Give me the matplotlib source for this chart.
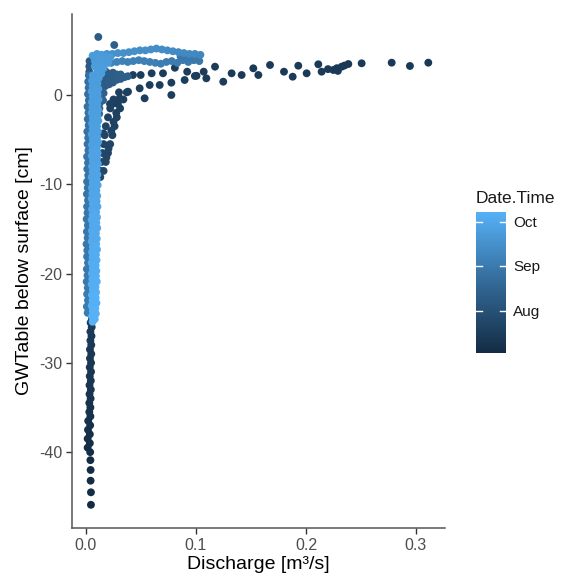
import matplotlib
matplotlib.use("Agg")
from matplotlib import pyplot as plt
from matplotlib.colors import LinearSegmentedColormap, Normalize
import matplotlib.dates as mdates
import pandas as pd

plt.rcParams['font.family'] = ['Liberation Sans', 'DejaVu Sans']

start = pd.Timestamp('2016-07-01')

# -- July: deep groundwater column (discharge [m3/s], GW table [cm], days after 1 July)
q_deep = [0.0045, 0.0045, 0.0042, 0.0042, 0.0040, 0.0038,
          0.0015, 0.0035, 0.0015, 0.0035, 0.0018, 0.0038, 0.0020, 0.0040, 0.0030, 0.0040,
          0.0030, 0.0042, 0.0032, 0.0044, 0.0032, 0.0044, 0.0034, 0.0046, 0.0034, 0.0046,
          0.0036, 0.0048, 0.0036, 0.0048, 0.0040, 0.0050, 0.0040, 0.0052, 0.0042, 0.0054]
gw_deep = [-45.9, -44.5, -43.2, -42.0, -40.9, -40.0,
           -39.5, -39.0, -38.5, -38.0, -37.5, -37.0, -36.5, -36.0, -35.5, -35.0,
           -34.5, -34.0, -33.5, -33.0, -32.5, -32.0, -31.5, -31.0, -30.5, -30.0,
           -29.5, -29.0, -28.5, -28.0, -27.5, -27.0, -26.5, -26.0, -25.5, -25.0]
d_deep = [2, 3, 3, 4, 4, 5,
          5, 5, 6, 6, 6, 7, 7, 7, 8, 8,
          8, 9, 9, 9, 10, 10, 10, 11, 11, 11,
          12, 12, 12, 13, 13, 13, 14, 14, 14, 15]

# -- July storm: long trail to the peak discharge
q_far = [0.0427, 0.0497, 0.0597, 0.0700, 0.0808, 0.0920, 0.1005, 0.1070, 0.1094, 0.1173,
         0.1248, 0.1324, 0.1415, 0.1521, 0.1567, 0.1673, 0.1800, 0.1879, 0.1930, 0.2006,
         0.2112, 0.2142, 0.2200, 0.2248, 0.2280, 0.2290, 0.2324, 0.2350, 0.2385, 0.2506,
         0.2779, 0.2945, 0.3112]
gw_far = [2.24, 2.24, 2.43, 2.43, 3.05, 2.61, 2.15, 2.61, 1.87, 3.17,
          1.49, 2.43, 2.24, 2.99, 2.24, 3.36, 2.61, 2.05, 3.28, 2.43,
          3.44, 2.61, 2.90, 2.80, 3.00, 2.70, 3.17, 3.30, 3.47, 3.55,
          3.62, 3.25, 3.62]
d_far = [16, 16, 16, 15, 15, 15, 15, 15, 15, 15,
         15, 14, 14, 14, 14, 14, 14, 14, 14, 14,
         14, 14, 14, 14, 13, 13, 13, 13, 13, 13,
         13, 13, 13]

# -- July: lower trail and recession band right of the column
q_rec = [0.0260, 0.0306, 0.0382, 0.0488, 0.0533, 0.0579, 0.0670, 0.0776, 0.0776, 0.0897, 0.0990,
         0.0130, 0.0130, 0.0160, 0.0140, 0.0180, 0.0150, 0.0200, 0.0160, 0.0220,
         0.0170, 0.0240, 0.0180, 0.0260, 0.0200, 0.0280, 0.0220, 0.0310, 0.0250, 0.0340,
         0.0300, 0.0370, 0.0205, 0.0230, 0.0250, 0.0275, 0.0290, 0.0218, 0.0158, 0.0185]
gw_rec = [-0.93, -0.37, 0.37, 0.75, -0.37, 1.12, 1.12, 0.00, 1.38, 1.68, 2.13,
          -9.2, -8.5, -8.5, -7.5, -7.5, -6.5, -6.5, -5.5, -5.5,
          -4.5, -4.5, -3.5, -3.5, -2.5, -2.5, -1.5, -1.5, -0.5, -0.5,
          0.3, 0.3, -6.0, -4.0, -3.0, -2.0, -1.0, -1.0, -4.3, -7.0]
d_rec = [17, 17, 17, 17, 17, 16, 16, 16, 16, 16, 16,
         24, 24, 24, 23, 23, 23, 22, 22, 22,
         21, 21, 21, 20, 20, 20, 19, 19, 19, 18,
         18, 18, 22, 21, 20, 19, 18, 20, 22, 23]

# -- August event: wedge above the recession
q_aug = [0.0112, 0.0257, 0.0030, 0.0030, 0.0032,
         0.0140, 0.0140, 0.0140, 0.0140, 0.0175, 0.0175, 0.0175, 0.0175,
         0.0210, 0.0210, 0.0210, 0.0245, 0.0245, 0.0245, 0.0280, 0.0280,
         0.0315, 0.0315, 0.0350, 0.0380,
         0.0130, 0.0130, 0.0125, 0.0122, 0.0120, 0.0160, 0.0155]
gw_aug = [6.5, 5.6, 2.6, 3.2, 3.8,
          0.9, 1.5, 2.1, 2.6, 1.0, 1.6, 2.2, 2.7,
          1.2, 1.8, 2.4, 1.4, 2.0, 2.5, 1.7, 2.3,
          1.8, 2.3, 2.0, 2.1,
          0.3, -0.3, -0.9, -1.5, -2.1, 0.2, -0.6]
d_aug = [40, 42, 38, 38, 38,
         40, 40, 40, 40, 40, 40, 40, 40,
         41, 41, 41, 41, 41, 41, 42, 42,
         42, 42, 42, 42,
         44, 45, 46, 47, 48, 44, 45]

# -- September: left stripe of the column
q_sep = [0.0015, 0.0008, 0.0018, 0.0010, 0.0016, 0.0006, 0.0014, 0.0008, 0.0018, 0.0010,
         0.0012, 0.0005, 0.0015, 0.0008, 0.0017, 0.0006, 0.0014, 0.0010, 0.0018, 0.0008,
         0.0016, 0.0010, 0.0020, 0.0012, 0.0018, 0.0010, 0.0022, 0.0014, 0.0020, 0.0012,
         0.0024, 0.0016, 0.0022, 0.0014, 0.0026, 0.0018, 0.0024, 0.0020, 0.0026]
gw_sep = [-24.4, -23.7, -23.0, -22.3, -21.6, -20.9, -20.2, -19.5, -18.8, -18.1,
          -17.4, -16.7, -16.0, -15.3, -14.6, -13.9, -13.2, -12.5, -11.8, -11.1,
          -10.4, -9.7, -9.0, -8.3, -7.6, -6.9, -6.2, -5.5, -4.8, -4.1,
          -3.4, -2.7, -2.0, -1.3, -0.6, 0.1, 0.8, 1.5, 2.2]
d_sep = [62, 62, 62, 62, 61, 61, 61, 61, 61, 60,
         60, 60, 60, 60, 59, 59, 59, 59, 59, 58,
         58, 58, 58, 58, 57, 57, 57, 57, 57, 56,
         56, 56, 56, 56, 55, 55, 55, 55, 55]

# -- September event: lower strand (first) and upper strand (second)
q_low = [0.018, 0.023, 0.028, 0.033, 0.038, 0.043, 0.048, 0.053, 0.058, 0.063,
         0.068, 0.073, 0.078, 0.083, 0.088, 0.093, 0.098, 0.103,
         0.086, 0.091, 0.096, 0.101]
gw_low = [3.7, 3.6, 3.7, 3.8, 3.7, 3.8, 3.9, 3.8, 3.7, 3.6,
          3.5, 3.7, 3.8, 3.6, 3.9, 3.7, 3.9, 3.8,
          4.3, 4.2, 4.3, 4.2]
d_low = [68, 68, 67, 67, 66, 66, 66, 65, 65, 65,
         64, 64, 63, 63, 62, 62, 61, 61,
         60, 60, 60, 60]

q_up = [0.014, 0.019, 0.024, 0.029, 0.034, 0.039, 0.044, 0.049, 0.054, 0.059,
        0.064, 0.069, 0.074, 0.079, 0.084, 0.089, 0.094, 0.099, 0.104]
gw_up = [4.5, 4.6, 4.6, 4.7, 4.7, 4.8, 4.9, 5.0, 5.0, 5.1,
         5.2, 5.1, 5.0, 4.9, 4.8, 4.7, 4.6, 4.6, 4.5]
d_up = [78, 78, 77, 77, 76, 76, 76, 75, 75, 75,
        74, 74, 73, 73, 72, 72, 71, 71, 70]

# -- October: light column, left and right edge of it, plus blob at the top
q_oct_l = [0.0060, 0.0055, 0.0062, 0.0052, 0.0060, 0.0054, 0.0062, 0.0052, 0.0058, 0.0054,
           0.0062, 0.0052, 0.0060, 0.0055, 0.0062, 0.0052, 0.0058, 0.0054, 0.0062, 0.0052,
           0.0060, 0.0055, 0.0062, 0.0052, 0.0058, 0.0054, 0.0062, 0.0052, 0.0060, 0.0055,
           0.0062, 0.0052, 0.0058, 0.0054, 0.0062, 0.0052, 0.0060, 0.0055, 0.0062, 0.0052,
           0.0058, 0.0054, 0.0062, 0.0052, 0.0060, 0.0055, 0.0062]
q_oct_r = [0.0080, 0.0090, 0.0085, 0.0095, 0.0088, 0.0092, 0.0086, 0.0098, 0.0090, 0.0094,
           0.0088, 0.0096, 0.0090, 0.0100, 0.0092, 0.0098, 0.0090, 0.0102, 0.0094, 0.0100,
           0.0092, 0.0104, 0.0096, 0.0102, 0.0094, 0.0106, 0.0098, 0.0104, 0.0096, 0.0108,
           0.0100, 0.0106, 0.0098, 0.0110, 0.0102, 0.0108, 0.0100, 0.0112, 0.0104, 0.0110,
           0.0102, 0.0114, 0.0106, 0.0112, 0.0104, 0.0116, 0.0108]
gw_oct_l = [-25.4, -24.8, -24.2, -23.6, -23.0, -22.4, -21.8, -21.2, -20.6, -20.0,
            -19.4, -18.8, -18.2, -17.6, -17.0, -16.4, -15.8, -15.2, -14.6, -14.0,
            -13.4, -12.8, -12.2, -11.6, -11.0, -10.4, -9.8, -9.2, -8.6, -8.0,
            -7.4, -6.8, -6.2, -5.6, -5.0, -4.4, -3.8, -3.2, -2.6, -2.0,
            -1.4, -0.8, -0.2, 0.4, 1.0, 1.6, 2.2]
gw_oct_r = [-25.1, -24.5, -23.9, -23.3, -22.7, -22.1, -21.5, -20.9, -20.3, -19.7,
            -19.1, -18.5, -17.9, -17.3, -16.7, -16.1, -15.5, -14.9, -14.3, -13.7,
            -13.1, -12.5, -11.9, -11.3, -10.7, -10.1, -9.5, -8.9, -8.3, -7.7,
            -7.1, -6.5, -5.9, -5.3, -4.7, -4.1, -3.5, -2.9, -2.3, -1.7,
            -1.1, -0.5, 0.1, 0.7, 1.3, 1.9, 2.5]
d_oct_col = [99, 99, 99, 98, 98, 98, 97, 97, 97, 96,
             96, 96, 95, 95, 95, 94, 94, 94, 93, 93,
             93, 92, 92, 92, 91, 91, 91, 90, 90, 90,
             89, 89, 89, 88, 88, 88, 87, 87, 87, 87,
             86, 86, 86, 86, 85, 85, 85]
q_blob = [0.006, 0.010, 0.014, 0.018, 0.022, 0.008, 0.012, 0.016, 0.020, 0.008, 0.012, 0.016, 0.010, 0.014]
gw_blob = [4.4, 4.6, 4.5, 4.3, 4.2, 3.8, 3.9, 3.7, 3.6, 3.2, 3.1, 3.0, 2.5, 2.4]
d_blob = [84, 84, 84, 84, 84, 84, 84, 84, 84, 85, 85, 85, 85, 85]

groups = [(q_deep, gw_deep, d_deep), (q_far, gw_far, d_far), (q_rec, gw_rec, d_rec),
          (q_aug, gw_aug, d_aug), (q_sep, gw_sep, d_sep), (q_low, gw_low, d_low),
          (q_up, gw_up, d_up), (q_oct_l, gw_oct_l, d_oct_col), (q_oct_r, gw_oct_r, d_oct_col),
          (q_blob, gw_blob, d_blob)]

# ggplot-like default continuous colour scale
cmap = LinearSegmentedColormap.from_list('gg', ['#132B43', '#336A98', '#56B1F7'])
t_min = mdates.date2num(start + pd.Timedelta(days=2))
t_max = mdates.date2num(start + pd.Timedelta(days=99))
norm = Normalize(vmin=t_min, vmax=t_max)

fig = plt.figure(figsize=(5.68, 5.77), dpi=100)
ax = fig.add_axes([0.1268, 0.0849, 0.6567, 0.8908])

for q, gw, d in groups:
    t = mdates.date2num(start + pd.to_timedelta(d, unit='D'))
    sc = ax.scatter(q, gw, c=t, cmap=cmap, norm=norm, s=32, linewidths=0)

ax.set_xlim(-0.0127, 0.3264)
ax.set_ylim(-48.5, 9.07)
ax.set_xticks([0.0, 0.1, 0.2, 0.3])
ax.set_xticklabels(['0.0', '0.1', '0.2', '0.3'])
ax.set_yticks([0, -10, -20, -30, -40])
ax.set_yticklabels(['0', '-10', '-20', '-30', '-40'])

for s in ['top', 'right']:
    ax.spines[s].set_visible(False)
for s in ['left', 'bottom']:
    ax.spines[s].set_color('#555555')
    ax.spines[s].set_linewidth(1.1)
ax.tick_params(colors='#333333', labelcolor='#4d4d4d', labelsize=11.5, length=4, width=1, pad=3)
ax.set_xlabel('Discharge [m³/s]', fontsize=14, labelpad=2)
ax.set_ylabel('GWTable below surface [cm]', fontsize=14, labelpad=4)

# colour bar
cax = fig.add_axes([0.838, 0.3877, 0.0528, 0.2454])
cb = fig.colorbar(sc, cax=cax)
cb.outline.set_visible(False)
tick_dates = [pd.Timestamp('2016-08-01'), pd.Timestamp('2016-09-01'), pd.Timestamp('2016-10-01')]
tick_vals = mdates.date2num(tick_dates)
cb.set_ticks(tick_vals)
cb.set_ticklabels(['Aug', 'Sep', 'Oct'])
cax.tick_params(length=0, labelsize=11, pad=5, labelcolor='#1a1a1a')
for v in tick_vals:
    cax.axhline(v, xmin=0, xmax=0.2, color='white', lw=1)
    cax.axhline(v, xmin=0.8, xmax=1, color='white', lw=1)
cax.set_title('Date.Time', loc='left', fontsize=12.5, pad=6, color='#1a1a1a')

fig.savefig('out.png', dpi=100)
